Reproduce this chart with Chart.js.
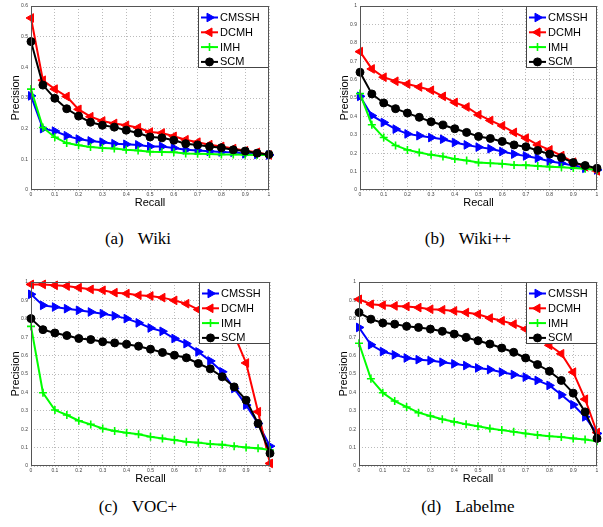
<!DOCTYPE html>
<html>
<head>
<meta charset="utf-8">
<script src="https://cdn.jsdelivr.net/npm/chart.js@4.4.1/dist/chart.umd.min.js"></script>
<style>
  html, body { margin: 0; padding: 0; background: #fff; }
  body { width: 603px; height: 527px; position: relative; overflow: hidden; }
  canvas { position: absolute; }
  .cap { position: absolute; width: 200px; text-align: center; line-height: 20px;
         font-family: "Liberation Serif", "DejaVu Serif", serif; font-size: 17px; color: #000; white-space: nowrap; }
  .gap { display: inline-block; width: 14px; }
</style>
</head>
<body>
<canvas id="wiki" width="300" height="210" style="left:0;top:0"></canvas>
<canvas id="wikipp" width="274" height="210" style="left:329px;top:0"></canvas>
<canvas id="voc" width="300" height="210" style="left:0;top:276px"></canvas>
<canvas id="labelme" width="275" height="210" style="left:328px;top:276px"></canvas>

<div class="cap" style="left:38px;top:229px">(a)<span class="gap"></span>Wiki</div>
<div class="cap" style="left:368px;top:229px">(b)<span class="gap"></span>Wiki++</div>
<div class="cap" style="left:38px;top:497px">(c)<span class="gap"></span>VOC+</div>
<div class="cap" style="left:368px;top:497px">(d)<span class="gap"></span>Labelme</div>

<script>
// recall points shared by all four plots
const recall = [0, 0.05, 0.1, 0.15, 0.2, 0.25, 0.3, 0.35, 0.4, 0.45, 0.5,
                0.55, 0.6, 0.65, 0.7, 0.75, 0.8, 0.85, 0.9, 0.95, 1];
const methods = ["CMSSH", "DCMH", "IMH", "SCM"];

// (a) Wiki
const wikiCMSSH = [0.307, 0.200, 0.192, 0.177, 0.166, 0.160, 0.156, 0.151, 0.149, 0.147, 0.142, 0.142, 0.137, 0.131, 0.129, 0.126, 0.124, 0.123, 0.118, 0.116, 0.114];
const wikiDCMH  = [0.561, 0.358, 0.329, 0.305, 0.263, 0.239, 0.225, 0.217, 0.211, 0.203, 0.189, 0.186, 0.175, 0.164, 0.156, 0.148, 0.142, 0.135, 0.128, 0.123, 0.114];
const wikiIMH   = [0.329, 0.204, 0.172, 0.153, 0.146, 0.140, 0.137, 0.135, 0.131, 0.129, 0.125, 0.124, 0.123, 0.119, 0.118, 0.117, 0.116, 0.116, 0.115, 0.114, 0.114];
const wikiSCM   = [0.484, 0.342, 0.299, 0.265, 0.241, 0.221, 0.211, 0.205, 0.195, 0.186, 0.173, 0.170, 0.162, 0.151, 0.147, 0.142, 0.138, 0.131, 0.127, 0.120, 0.116];

// (b) Wiki++
const wppCMSSH = [0.509, 0.404, 0.367, 0.331, 0.305, 0.295, 0.285, 0.276, 0.258, 0.245, 0.233, 0.224, 0.209, 0.195, 0.185, 0.173, 0.156, 0.145, 0.133, 0.118, 0.109];
const wppDCMH  = [0.752, 0.658, 0.613, 0.591, 0.576, 0.560, 0.542, 0.509, 0.476, 0.451, 0.409, 0.378, 0.349, 0.313, 0.282, 0.245, 0.218, 0.187, 0.151, 0.127, 0.104];
const wppIMH   = [0.524, 0.355, 0.285, 0.242, 0.218, 0.204, 0.191, 0.182, 0.169, 0.160, 0.149, 0.145, 0.142, 0.136, 0.135, 0.131, 0.127, 0.124, 0.120, 0.116, 0.109];
const wppSCM   = [0.640, 0.522, 0.473, 0.442, 0.418, 0.395, 0.371, 0.353, 0.333, 0.313, 0.291, 0.280, 0.264, 0.245, 0.235, 0.215, 0.195, 0.176, 0.149, 0.133, 0.118];

// (c) VOC+
const vocCMSSH = [0.933, 0.873, 0.864, 0.855, 0.846, 0.837, 0.828, 0.816, 0.801, 0.778, 0.750, 0.732, 0.693, 0.665, 0.620, 0.571, 0.512, 0.421, 0.331, 0.231, 0.108];
const vocDCMH  = [0.987, 0.987, 0.982, 0.978, 0.969, 0.960, 0.955, 0.942, 0.937, 0.928, 0.924, 0.915, 0.900, 0.882, 0.850, 0.820, 0.780, 0.714, 0.560, 0.295, 0.014];
const vocIMH   = [0.759, 0.398, 0.304, 0.277, 0.246, 0.226, 0.204, 0.190, 0.181, 0.172, 0.159, 0.150, 0.141, 0.132, 0.127, 0.119, 0.116, 0.108, 0.101, 0.096, 0.087];
const vocSCM   = [0.801, 0.741, 0.723, 0.709, 0.693, 0.687, 0.675, 0.669, 0.662, 0.651, 0.635, 0.617, 0.602, 0.588, 0.557, 0.528, 0.485, 0.430, 0.358, 0.231, 0.069];

// (d) Labelme
const lmCMSSH = [0.753, 0.659, 0.622, 0.604, 0.587, 0.578, 0.573, 0.564, 0.555, 0.546, 0.533, 0.524, 0.510, 0.497, 0.483, 0.465, 0.438, 0.387, 0.333, 0.267, 0.177];
const lmDCMH  = [0.906, 0.879, 0.874, 0.870, 0.867, 0.861, 0.852, 0.849, 0.843, 0.834, 0.825, 0.804, 0.789, 0.771, 0.744, 0.700, 0.656, 0.610, 0.510, 0.363, 0.182];
const lmIMH   = [0.667, 0.474, 0.398, 0.353, 0.321, 0.290, 0.272, 0.254, 0.240, 0.227, 0.216, 0.204, 0.195, 0.186, 0.177, 0.169, 0.162, 0.157, 0.150, 0.144, 0.135];
const lmSCM   = [0.834, 0.798, 0.777, 0.771, 0.759, 0.753, 0.744, 0.732, 0.717, 0.699, 0.681, 0.663, 0.641, 0.618, 0.587, 0.551, 0.515, 0.465, 0.396, 0.294, 0.150];

const looks = [
  { color: "#0000ff", shape: "triangle", rot: 90,  r: 5, bw: 1 },
  { color: "#ff0000", shape: "triangle", rot: -90, r: 5, bw: 1 },
  { color: "#00ff00", shape: "cross",    rot: 0,   r: 4, bw: 1.6 },
  { color: "#000000", shape: "circle",   rot: 0,   r: 4, bw: 1 },
];

Chart.defaults.font.family = '"Liberation Sans", Arial, sans-serif';

// plot frame + matlab style legend box in the upper right corner
const frameLegend = {
  id: "frameLegend",
  afterDraw(chart) {
    const { ctx, chartArea: a } = chart;
    ctx.save();
    const w = 71, h = 62;
    const x0 = Math.round(a.right - w), y0 = Math.round(a.top);
    ctx.fillStyle = "#fff";
    ctx.fillRect(x0, y0, w, h);
    ctx.strokeStyle = "#444";
    ctx.lineWidth = 1;
    ctx.strokeRect(x0 + 0.5, y0 + 0.5, w - 1, h - 1);
    methods.forEach((name, k) => {
      const lk = looks[k];
      const y = y0 + 11.5 + k * 14.8;
      ctx.strokeStyle = lk.color;
      ctx.fillStyle = lk.color;
      ctx.lineWidth = 2;
      ctx.beginPath();
      ctx.moveTo(x0 + 3, y);
      ctx.lineTo(x0 + 20, y);
      ctx.stroke();
      ctx.lineWidth = lk.bw;
      Chart.helpers.drawPoint(ctx, { pointStyle: lk.shape, rotation: lk.rot, radius: lk.r, borderWidth: lk.bw }, x0 + 11.5, y);
      ctx.fillStyle = "#000";
      ctx.font = '11px "Liberation Sans", Arial, sans-serif';
      ctx.textBaseline = "middle";
      ctx.fillText(name, x0 + 22, y + 0.5);
    });
    ctx.strokeStyle = "#555";
    ctx.lineWidth = 1;
    ctx.strokeRect(Math.round(a.left) + 0.5, Math.round(a.top) + 0.5,
                   Math.round(a.right - a.left) - 1, Math.round(a.bottom - a.top) - 1);
    ctx.restore();
  }
};

const fmt = (v) => String(+v.toFixed(1));

function drawPR(id, series, yMax, padTop, padRight) {
  return new Chart(document.getElementById(id), {
    type: "line",
    data: {
      datasets: methods.map((name, k) => ({
        label: name,
        data: recall.map((r, i) => ({ x: r, y: series[k][i] })),
        borderColor: looks[k].color,
        backgroundColor: looks[k].color,
        borderWidth: 2,
        pointStyle: looks[k].shape,
        pointRotation: looks[k].rot,
        pointRadius: looks[k].r,
        pointHoverRadius: looks[k].r,
        pointBorderWidth: looks[k].bw,
        pointBorderColor: looks[k].color,
        pointBackgroundColor: looks[k].color,
        tension: 0,
        clip: false,
        order: 3 - k,
      })),
    },
    options: {
      responsive: false,
      animation: false,
      events: [],
      layout: { padding: { top: padTop, right: padRight, left: 0, bottom: 0 } },
      plugins: { legend: { display: false }, tooltip: { enabled: false } },
      scales: {
        x: {
          type: "linear", min: 0, max: 1,
          border: { display: false, dash: [1, 2] },
          grid: { color: "#bbb", drawTicks: false },
          ticks: { stepSize: 0.1, autoSkip: false, maxRotation: 0, padding: 2,
                   font: { size: 5 }, color: "#444", callback: fmt },
          title: { display: true, text: "Recall", color: "#000", font: { size: 11 },
                   padding: { top: 0, bottom: 0 } },
          afterFit: (s) => { s.height = 20; },
        },
        y: {
          min: 0, max: yMax,
          border: { display: false, dash: [1, 2] },
          grid: { color: "#bbb", drawTicks: false },
          ticks: { stepSize: 0.1, autoSkip: false, padding: 3,
                   font: { size: 5 }, color: "#444", callback: fmt },
          title: { display: true, text: "Precision", color: "#000", font: { size: 11 },
                   padding: { top: 9, bottom: 0 } },
          afterFit: (s) => { s.width = 31; },
        },
      },
    },
    plugins: [frameLegend],
  });
}

drawPR("wiki",    [wikiCMSSH, wikiDCMH, wikiIMH, wikiSCM], 0.6, 6, 31);
drawPR("wikipp",  [wppCMSSH, wppDCMH, wppIMH, wppSCM],     1,   6, 3);
drawPR("voc",     [vocCMSSH, vocDCMH, vocIMH, vocSCM],     1,   5, 30);
drawPR("labelme", [lmCMSSH, lmDCMH, lmIMH, lmSCM],         1,   5, 5);
</script>
</body>
</html>
